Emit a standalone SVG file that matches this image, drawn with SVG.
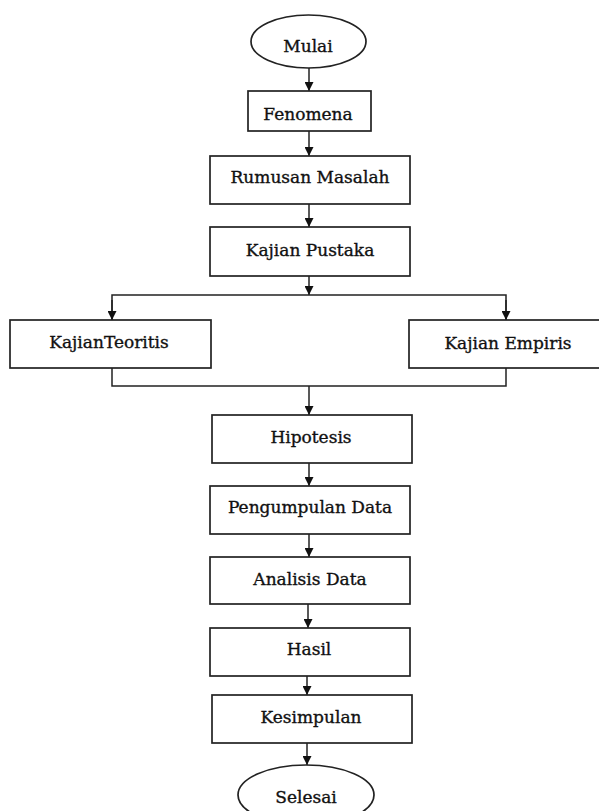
<svg xmlns="http://www.w3.org/2000/svg" width="599" height="811" viewBox="0 0 599 811">
<style>
.box{fill:#fff;stroke:#222;stroke-width:1.7}
.t{font-family:"DejaVu Serif","Liberation Serif",serif;font-size:17px;fill:#111;stroke:#111;stroke-width:0.35;text-anchor:middle}
.c{fill:none;stroke:#222;stroke-width:1.5}
</style>
<defs>
<marker id="ah" viewBox="0 0 10 10" refX="10" refY="5" markerWidth="9" markerHeight="9" markerUnits="userSpaceOnUse" orient="auto">
<path d="M0,0 L10,5 L0,10 z" fill="#111"/>
</marker>
</defs>
<rect width="599" height="811" fill="#fff"/>
<g id="connectors">
<path class="c" d="M309,68 V91" marker-end="url(#ah)"/>
<path class="c" d="M309,131 V156" marker-end="url(#ah)"/>
<path class="c" d="M309,204 V227" marker-end="url(#ah)"/>
<path class="c" d="M309,276 V295" marker-end="url(#ah)"/>
<path class="c" d="M112,320 V295 H506 V320"/>
<path class="c" d="M112,300 V320" marker-end="url(#ah)"/>
<path class="c" d="M506,300 V320" marker-end="url(#ah)"/>
<path class="c" d="M112,368 V386 H506 V368"/>
<path class="c" d="M309,386 V415" marker-end="url(#ah)"/>
<path class="c" d="M309,463 V486" marker-end="url(#ah)"/>
<path class="c" d="M309,534 V557" marker-end="url(#ah)"/>
<path class="c" d="M308,604 V628" marker-end="url(#ah)"/>
<path class="c" d="M307,676 V695" marker-end="url(#ah)"/>
<path class="c" d="M307,743 V765" marker-end="url(#ah)"/>
</g>
<g id="mulai"><ellipse class="box" cx="308.5" cy="41.5" rx="57.5" ry="26.5"/><text class="t" x="308" y="52">Mulai</text></g>
<g id="fenomena"><rect class="box" x="248" y="91" width="123" height="40"/><text class="t" x="308" y="120">Fenomena</text></g>
<g id="rumusan"><rect class="box" x="210" y="156" width="200" height="48"/><text class="t" x="310" y="183">Rumusan Masalah</text></g>
<g id="pustaka"><rect class="box" x="210" y="227" width="200" height="49"/><text class="t" x="310" y="256">Kajian Pustaka</text></g>
<g id="teoritis"><rect class="box" x="10" y="320" width="201" height="48"/><text class="t" x="109" y="348">KajianTeoritis</text></g>
<g id="empiris"><rect class="box" x="409" y="320" width="200" height="48"/><text class="t" x="508" y="349">Kajian Empiris</text></g>
<g id="hipotesis"><rect class="box" x="212" y="415" width="200" height="48"/><text class="t" x="311" y="443">Hipotesis</text></g>
<g id="pengumpulan"><rect class="box" x="210" y="486" width="200" height="48"/><text class="t" x="310" y="513">Pengumpulan Data</text></g>
<g id="analisis"><rect class="box" x="210" y="557" width="200" height="47"/><text class="t" x="310" y="585">Analisis Data</text></g>
<g id="hasil"><rect class="box" x="210" y="628" width="200" height="48"/><text class="t" x="309" y="655">Hasil</text></g>
<g id="kesimpulan"><rect class="box" x="212" y="695" width="200" height="48"/><text class="t" x="311" y="723">Kesimpulan</text></g>
<g id="selesai"><ellipse class="box" cx="306" cy="795" rx="68" ry="30"/><text class="t" x="306" y="803">Selesai</text></g>
</svg>
